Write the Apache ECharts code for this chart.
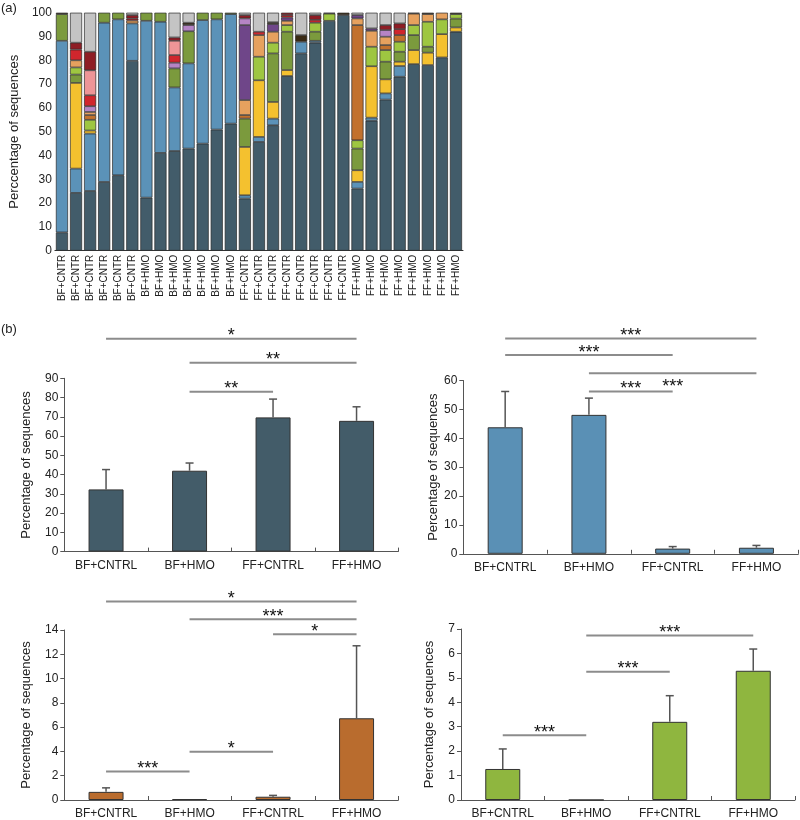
<!DOCTYPE html>
<html><head><meta charset="utf-8">
<script src="https://cdn.jsdelivr.net/npm/echarts@6/dist/echarts.min.js"></script>
<style>html,body{margin:0;padding:0;background:#fff}#c{width:800px;height:820px}</style>
</head><body><div id="c"></div>
<script>
// ---------- (a) per-sample composition ----------
const sampleLabels = ['BF+CNTR','BF+CNTR','BF+CNTR','BF+CNTR','BF+CNTR','BF+CNTR',
  'BF+HMO','BF+HMO','BF+HMO','BF+HMO','BF+HMO','BF+HMO','BF+HMO',
  'FF+CNTR','FF+CNTR','FF+CNTR','FF+CNTR','FF+CNTR','FF+CNTR','FF+CNTR','FF+CNTR',
  'FF+HMO','FF+HMO','FF+HMO','FF+HMO','FF+HMO','FF+HMO','FF+HMO','FF+HMO'];
const slate    = [7.7,24.3,25.1,28.9,31.7,79.8,22.3,41.1,41.9,42.9,45,50.9,53.4,21.9,45.7,52.7,73.4,82.9,87.4,96.6,99,26.1,54.6,63.5,73.1,78.4,78,81.2,92];
const blue     = [80.5,10.2,24.1,66.9,65.5,15.7,74.3,55.1,26.7,35.8,51.9,46.3,46,1.4,2.1,2.8,0,4.9,0.8,0,0,2.8,1.3,2.6,4.5,0,0,0,0];
const yellow   = [0,36,1.3,0,0,0,0,0,0,0,0,0,0,20.3,23.8,7,2.5,0,0,0,0,4.9,21.6,5.9,1.8,5.9,5.2,9.8,1.8];
const olive    = [11.2,3.5,0,4.2,2.8,0,3.4,3.8,8,13.5,3.1,2.8,0.6,11.9,0,20.4,16.1,0,3.8,0,0,9.1,0,7.4,4.2,6.3,2.5,0,3.7];
const lgreen   = [0,3,4.5,0,0,0,0,0,0,0,0,0,0,0,9.9,4.5,2.8,0,3.8,3,0,3.5,8.2,4.9,4.2,4.2,10.5,6.2,1.9];
const orange   = [0,0,2,0,0,0,0,0,0,0,0,0,0,1.5,0,0,0,0,0,0,0,48.4,0,2.1,2.8,0,0,0,0];
const tan      = [0,3,1.3,0,0,1.2,0,0,0,0,0,0,0,6.3,9.1,4.6,1.8,0,0,0,0,2.8,6.7,3.5,0,4.8,3.2,2.8,0];
const purple   = [0,0,0,0,0,0,0,0,0,0,0,0,0,31.5,0,3.2,1.4,0,0,0,0,1.4,1,0,0,0,0,0,0];
const lavender = [0,0,2.4,0,0,0,0,0,2.4,2.6,0,0,0,2.8,0,0,0,0,0,0,0,0,0,2.8,0,0,0,0,0];
const red      = [0,4.5,4.6,0,0,0.8,0,0,3.2,0,0,0,0,0,1.4,0,1,0,1.2,0,0,0,0,0,2.5,0,0,0,0];
const pink     = [0,0,10.5,0,0,0,0,0,6,0,0,0,0,0,0,0,0,0,0,0,0,0,0,0,0,0,0,0,0];
const darkred  = [0,2.9,7.8,0,0,1.5,0,0,1.4,0,0,0,0,1.4,0,0,1,0,2,0,0,0,0,2.1,2.4,0,0,0,0];
const darkbrown= [0.6,0,0,0,0,0,0,0,0,1,0,0,0,0,0,0.8,0,2.8,0,0.4,1,0,0,0,0,0.4,0.6,0,0.6];
const grey     = [0,12.6,16.4,0,0,1,0,0,10.4,4.2,0,0,0,1,8,4,0,9.4,1,0,0,1,6.6,5.2,4.5,0,0,0,0];
const yTicksA  = [0,10,20,30,40,50,60,70,80,90,100];

// ---------- (b) group means ----------
const groups = ['BF+CNTRL','BF+HMO','FF+CNTRL','FF+HMO'];
const b1Mean = [32.3,42.0,69.7,67.9];  const b1Err = [10.3,4.0,9.5,7.3];
const b2Mean = [43.8,48.1,1.8,2.1];    const b2Err = [12.4,5.8,0.7,0.8];
const b3Mean = [0.67,0.08,0.27,6.73];  const b3Err = [0.33,0,0.11,5.97];
const b4Mean = [1.27,0,3.2,5.29];      const b4Err = [0.82,0,1.07,0.89];
// significance: [fromGroup, toGroup, level, stars, textSide]
const b1Sig = [[1,2,83,'**'],[1,3,98.1,'**'],[0,3,110.6,'*']];
const b2Sig = [[0,3,74.5,'***'],[0,2,68.8,'***'],[1,3,62.5,'***','below'],[1,2,56.2,'***']];
const b3Sig = [[0,3,16.34,'*'],[1,3,14.89,'***'],[2,3,13.65,'*'],[1,2,3.98,'*'],[0,1,2.34,'***']];
const b4Sig = [[1,3,6.73,'***'],[1,2,5.25,'***'],[0,1,2.65,'***']];

// ---------- styles ----------
const FONT = 'Liberation Sans, Arial, sans-serif';
const taxa = [slate,blue,yellow,olive,lgreen,orange,tan,purple,lavender,red,pink,darkred,darkbrown,grey];
const taxaColors = ['#425c6a','#5b92b8','#f4c12f','#7b9a3d','#9ec641','#c2712d','#e6a15e','#6f4689','#b584c5','#d0262d','#ee9597','#8e1d25','#3a2a14','#c4c4c4'];
const panelColors = ['#435c69','#5a90b5','#b96c2e','#8fb63f'];

const chart = echarts.init(document.getElementById('c'), null, {renderer:'canvas'});

const grids = [
  {left:44.5, top:12.7, width:418.5, height:238},
  {left:64.3, top:378.3, width:334, height:173.3},
  {left:463.3, top:380.5, width:335, height:173.3},
  {left:64.3, top:630, width:334, height:173.3},
  {left:461, top:629, width:334, height:173.3}
];

const xAxes = [{
  type:'category', gridIndex:0, data:sampleLabels,
  axisLine:{lineStyle:{color:'#333',width:1}}, axisTick:{show:false},
  axisLabel:{rotate:90, interval:0, fontSize:10, margin:4, color:'#222', fontFamily:FONT}
}];
const yAxes = [{
  type:'value', gridIndex:0, min:0, max:100, interval:10,
  axisLine:{show:false}, axisTick:{show:false}, splitLine:{show:false},
  axisLabel:{fontSize:12, margin:3, color:'#222', fontFamily:FONT},
  name:'Perccentage of sequences', nameLocation:'middle', nameGap:23,
  nameTextStyle:{fontSize:13, color:'#222', fontFamily:FONT}
}];
const panelMax = [90,60,14,7], panelInt = [10,10,2,1], nameGaps = [31,22,31,25];
for (let i=0;i<4;i++){
  xAxes.push({type:'category', gridIndex:i+1, data:groups,
    axisLine:{lineStyle:{color:'#555',width:1}},
    axisTick:{show:true, inside:true, length:4, lineStyle:{color:'#555'}},
    axisLabel:{fontSize:12, margin:8, color:'#222', fontFamily:FONT}});
  yAxes.push({type:'value', gridIndex:i+1, min:0, max:panelMax[i], interval:panelInt[i],
    axisLine:{show:true, lineStyle:{color:'#555',width:1}},
    axisTick:{show:true, length:4, lineStyle:{color:'#555'}}, splitLine:{show:false},
    axisLabel:{fontSize:12, margin:6, color:'#222', fontFamily:FONT},
    name:'Percentage of sequences', nameLocation:'middle', nameGap:nameGaps[i],
    nameTextStyle:{fontSize:13, color:'#222', fontFamily:FONT}});
}

const series = [];
taxa.forEach((arr,k)=>{
  series.push({type:'bar', xAxisIndex:0, yAxisIndex:0, stack:'comp',
    data: arr.map(v => v === 0 ? null : v),
    barCategoryGap:'14%',
    itemStyle:{color:taxaColors[k], borderColor:'#2a2a2a', borderWidth:0.7},
    silent:true});
});

function errRender(params, api){
  const x = api.value(0), m = api.value(1), e = api.value(2);
  if (!(e > 0)) return {type:'group', children:[]};
  const p0 = api.coord([x,m]), p1 = api.coord([x,m+e]);
  const st = {stroke:'#555', lineWidth:1.5};
  return {type:'group', children:[
    {type:'line', shape:{x1:p0[0],y1:p0[1],x2:p1[0],y2:p1[1]}, style:st},
    {type:'line', shape:{x1:p1[0]-4,y1:p1[1],x2:p1[0]+4,y2:p1[1]}, style:st}
  ]};
}
function sigRender(sigs){
  return function(params, api){
    const s = sigs[params.dataIndex];
    const p1 = api.coord([s[0], s[2]]), p2 = api.coord([s[1], s[2]]);
    const below = s[4] === 'below';
    const tx = (p1[0]+p2[0])/2;
    const ty = below ? p1[1] + 13.5 : p1[1] - 2.5;
    return {type:'group', children:[
      {type:'line', shape:{x1:p1[0],y1:p1[1],x2:p2[0],y2:p2[1]}, style:{stroke:'#8c8c8c', lineWidth:2}},
      {type:'text', x:tx, y:ty, style:{text:s[3], fill:'#111', fontSize:18, fontFamily:FONT, align:'center', verticalAlign:'middle'}}
    ]};
  };
}
const means = [b1Mean,b2Mean,b3Mean,b4Mean], errs = [b1Err,b2Err,b3Err,b4Err], sigs = [b1Sig,b2Sig,b3Sig,b4Sig];
for (let i=0;i<4;i++){
  series.push({type:'bar', xAxisIndex:i+1, yAxisIndex:i+1, data:means[i], barWidth:35,
    itemStyle:{color:panelColors[i], borderColor:'#333', borderWidth:1}, silent:true});
  series.push({type:'custom', xAxisIndex:i+1, yAxisIndex:i+1, clip:false, z:5, silent:true,
    data: means[i].map((m,j)=>[j, m, errs[i][j]]), encode:{x:0,y:1}, renderItem:errRender});
  series.push({type:'custom', xAxisIndex:i+1, yAxisIndex:i+1, clip:false, z:5, silent:true,
    data: sigs[i].map(s=>[s[0], s[2], s[1]]), encode:{x:0,y:1}, renderItem:sigRender(sigs[i])});
}

chart.setOption({
  animation:false,
  backgroundColor:'#fff',
  title:[
    {text:'(a)', left:1, top:2, padding:0, textStyle:{fontSize:13, fontWeight:'normal', color:'#222', fontFamily:FONT}},
    {text:'(b)', left:1, top:323, padding:0, textStyle:{fontSize:13, fontWeight:'normal', color:'#222', fontFamily:FONT}}
  ],
  grid:grids, xAxis:xAxes, yAxis:yAxes, series:series
});
</script></body></html>
